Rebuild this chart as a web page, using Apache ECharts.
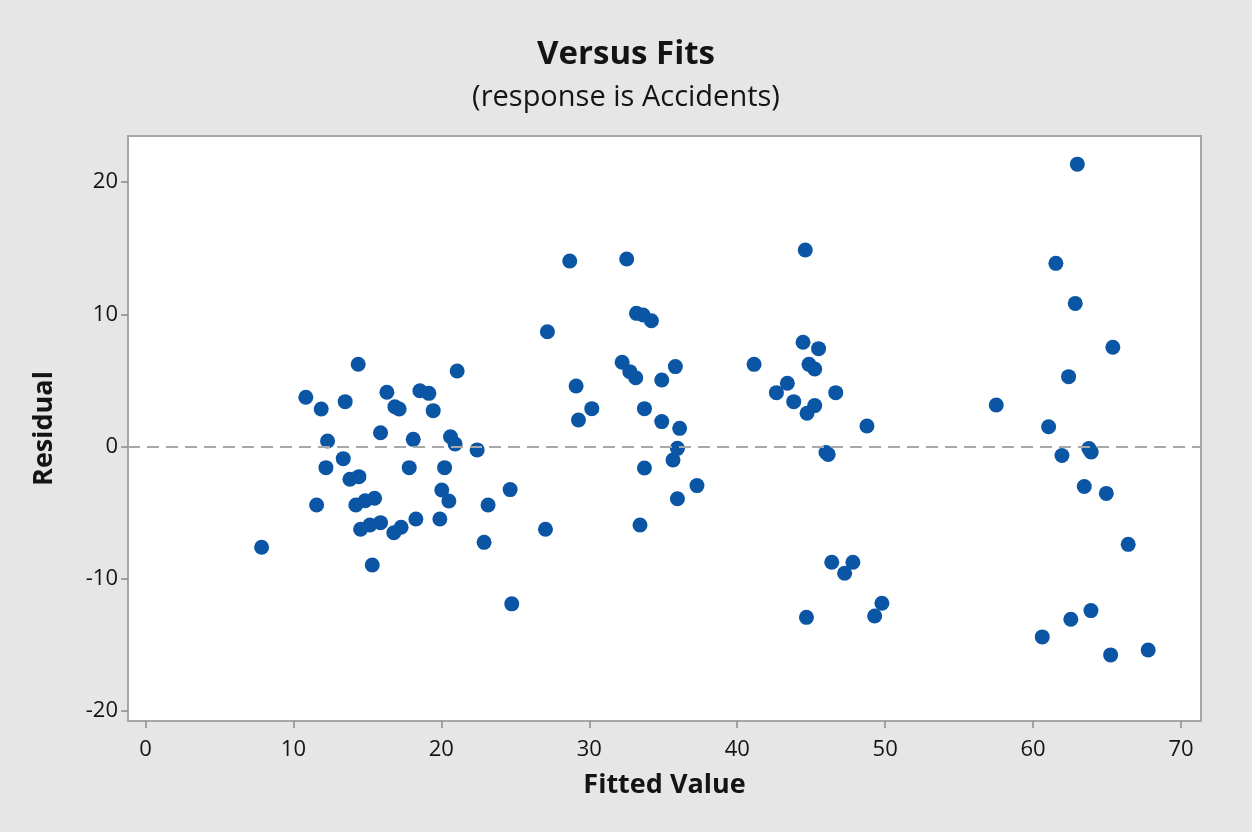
<!DOCTYPE html>
<html>
<head>
<meta charset="utf-8">
<script src="https://cdn.jsdelivr.net/npm/echarts@6/dist/echarts.min.js"></script>
<style>
html,body{margin:0;padding:0;background:#e6e6e6;}
#chart{width:1252px;height:832px;}
</style>
</head>
<body>
<div id="chart"></div>
<script>
// Fitted values (x) and residuals (y)
const fittedValues = [
  14.38,21.07,10.84,11.88,13.5,16.32,16.86,17.15,18.55,19.16,19.45,15.89,18.1,20.62,20.93,22.42,12.31,13.37,12.2,17.83,
  20.22,13.82,14.43,11.57,14.22,14.85,15.49,20.03,20.51,23.16,14.54,15.17,15.89,16.79,17.28,18.28,19.9,22.89,7.85,15.33,
  28.68,32.53,27.17,33.19,33.64,34.2,32.22,32.74,33.14,34.9,35.82,29.11,30.17,29.27,33.73,34.9,36.11,35.96,35.66,33.73,
  37.28,35.96,24.65,27.04,33.43,24.76,
  44.6,44.45,45.5,41.14,44.85,45.24,43.39,42.65,46.66,43.82,45.24,44.72,48.77,46.0,46.15,46.39,47.82,47.26,44.68,49.78,49.29,
  62.99,61.54,62.85,65.39,62.4,57.51,61.05,61.95,63.77,63.93,63.46,64.95,66.43,63.91,62.55,60.62,65.24,67.78
];
const residuals = [
  6.22,5.71,3.72,2.84,3.39,4.1,3.01,2.84,4.22,4.02,2.71,1.04,0.54,0.74,0.19,-0.26,0.42,-0.92,-1.6,-1.6,
  -1.6,-2.48,-2.28,-4.42,-4.42,-4.1,-3.92,-3.29,-4.12,-4.42,-6.26,-5.94,-5.76,-6.52,-6.11,-5.48,-5.48,-7.25,-7.62,-8.96,
  14.03,14.18,8.68,10.07,9.94,9.51,6.37,5.66,5.2,5.03,6.04,4.57,2.86,2.0,2.86,1.88,1.37,-0.14,-1.02,-1.63,
  -2.96,-3.95,-3.26,-6.26,-5.94,-11.9,
  14.86,7.88,7.4,6.21,6.21,5.86,4.78,4.07,4.07,3.39,3.09,2.51,1.55,-0.45,-0.6,-8.76,-8.76,-9.59,-12.92,-11.86,-12.82,
  21.35,13.85,10.82,7.5,5.28,3.14,1.49,-0.68,-0.16,-0.42,-3.03,-3.55,-7.4,-12.41,-13.07,-14.4,-15.76,-15.39
];
const xTicks = [0,10,20,30,40,50,60,70];
const yTicks = [-20,-10,0,10,20];
const referenceResidual = 0;

const points = fittedValues.map((x,i)=>[x,residuals[i]]);
const FONT = '"Open Sans", "Noto Sans", sans-serif';
const TXT = '#141414';

const chart = echarts.init(document.getElementById('chart'), null, {renderer:'canvas'});
chart.setOption({
  backgroundColor:'#e6e6e6',
  animation:false,
  title:{
    text:'Versus Fits',
    subtext:'(response is Accidents)',
    left:'center',
    top:33,
    itemGap:12,
    textStyle:{fontFamily:FONT,fontSize:33,fontWeight:'bold',color:TXT},
    subtextStyle:{fontFamily:FONT,fontSize:29,color:TXT}
  },
  grid:{
    left:128,right:51,top:136,bottom:111,
    show:true,backgroundColor:'#ffffff',borderColor:'#a6a6a6',borderWidth:2
  },
  xAxis:{
    type:'value',
    min:-1.18,max:71.35,
    name:'Fitted Value',
    nameLocation:'middle',
    nameGap:51,
    nameTextStyle:{fontFamily:FONT,fontSize:27,fontWeight:'bold',color:TXT},
    axisLine:{show:false,onZero:false},
    axisTick:{show:true,inside:false,length:7,lineStyle:{color:'#8c8c8c',width:1.5},customValues:xTicks},
    axisLabel:{fontFamily:FONT,fontSize:22,color:TXT,margin:18,customValues:xTicks},
    splitLine:{show:false}
  },
  yAxis:{
    type:'value',
    min:-20.76,max:23.48,
    name:'Residual',
    nameLocation:'middle',
    nameGap:70,
    nameRotate:90,
    nameTextStyle:{fontFamily:FONT,fontSize:27,fontWeight:'bold',color:TXT},
    axisLine:{show:false,onZero:false},
    axisTick:{show:true,inside:false,length:7,lineStyle:{color:'#8c8c8c',width:1.5},customValues:yTicks},
    axisLabel:{fontFamily:FONT,fontSize:22,color:TXT,margin:10,customValues:yTicks},
    splitLine:{show:false}
  },
  series:[{
    type:'scatter',
    data:points,
    symbol:'circle',
    symbolSize:15,
    itemStyle:{color:'#0a55a4',opacity:1},
    markLine:{
      silent:true,
      symbol:'none',
      label:{show:false},
      lineStyle:{color:'#a8a8a8',type:[12,7],width:2},
      data:[{yAxis:referenceResidual}]
    },
    z:3
  }]
});
</script>
</body>
</html>
